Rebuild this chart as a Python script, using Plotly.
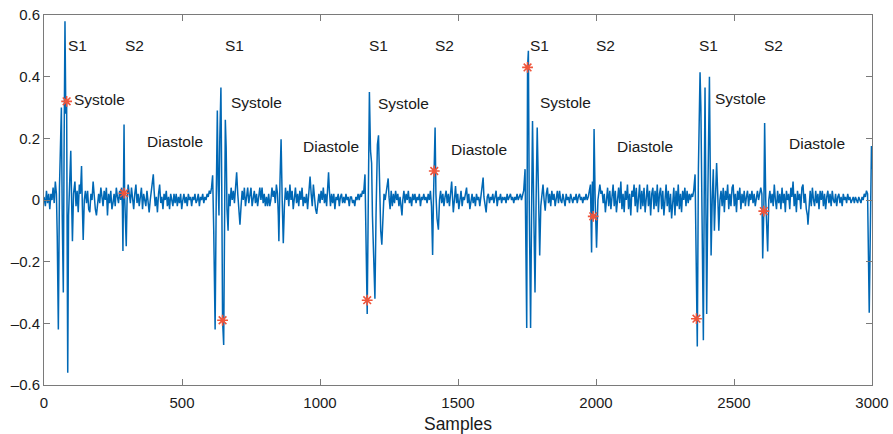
import plotly.graph_objects as go

# ---- PCG signal as (sample, amplitude) pairs ----
beat1_s1_s2 = [(0,0.01),(5,-0.02),(9,0.03),(13,-0.01),(17,0.02),(21,-0.03),(25,0.02),(29,0.0),(33,0.04),(37,-0.01),(41,0.06),(45,0.02),(48,-0.12),(52,-0.42),(56,0.04),(60,0.22),(63,0.3),(66,-0.05),(70,-0.3),(73,0.2),(76,0.58),(79,0.28),(82,0.32),(84,-0.15),(86,-0.56),(89,-0.05),(93,0.1),(97,0.16),(100,0.0),(103,-0.134),(107,0.02),(112,0.06),(116,-0.02),(120,0.03),(124,-0.04),(128,0.05),(132,0.02),(136,0.11),(139,-0.02),(142,-0.13),(146,0.0),(150,0.03),(154,-0.01),(158,0.03),(162,-0.03),(166,-0.04),(170,0.02),(174,0.0),(178,0.06),(182,0.01),(186,-0.03),(190,-0.05),(194,-0.02),(198,0.02),(202,-0.01),(206,0.04),(210,0.01),(214,-0.02),(218,0.03),(222,0.0),(226,0.04),(230,-0.05),(234,0.02),(238,-0.01),(242,0.03),(246,-0.03),(250,-0.01),(254,0.02),(258,-0.02),(262,0.04),(266,0.01),(270,-0.01),(274,0.03),(278,0.0),(281,0.04),(284,-0.02),(286,-0.165),(288,0.04),(290,0.245),(292,0.02),(295,-0.04),(298,-0.15),(301,0.0),(305,0.05)]

diastole1 = [(309,0.02),(313,-0.01),(317,0.04),(321,0.0),(325,-0.03),(329,0.02),(333,0.05),(337,-0.01),(341,0.02),(345,-0.02),(349,0.01),(353,0.04),(357,-0.03),(361,0.02),(365,0.0),(369,-0.02),(373,0.03),(377,-0.01),(381,-0.04),(385,0.0),(389,0.03),(393,0.06),(396,0.083),(399,0.03),(403,-0.02),(407,0.01),(411,-0.04),(415,0.02),(419,0.05),(423,-0.01),(427,0.01),(431,-0.03),(435,0.02),(439,0.0),(443,0.03),(447,-0.02),(451,0.01),(455,-0.03),(459,0.02),(463,0.0),(467,-0.02),(471,0.02),(475,-0.01),(479,0.02),(483,-0.02),(487,0.01),(491,-0.01),(495,0.02),(499,-0.03),(503,0.0),(507,0.02),(511,-0.01),(515,0.01),(519,-0.02),(523,0.02),(527,0.0),(531,0.01),(535,-0.02),(539,0.01),(543,0.0),(547,0.02),(551,-0.01),(555,0.0),(559,0.02),(563,-0.02),(567,0.01),(571,0.0),(575,0.02),(579,-0.01),(583,0.01),(587,0.0),(591,0.02),(595,0.01),(599,0.03),(603,0.02),(607,0.04)]

beat2_s1 = [(611,0.08),(615,-0.1),(620,-0.42),(624,0.0),(628,0.29),(631,0.05),(634,-0.05),(637,0.2),(641,0.365),(644,0.05),(647,-0.39),(651,-0.47),(654,0.05),(657,0.26),(660,0.17),(663,-0.03),(667,-0.1),(670,0.02),(674,-0.02),(678,0.04),(682,0.0),(686,0.03),(690,-0.01),(694,0.05),(698,0.09),(702,0.02),(706,-0.03),(710,-0.08),(714,-0.02),(718,0.03),(722,0.0),(726,0.04),(730,-0.02),(734,0.01),(738,0.04),(742,-0.01),(746,0.02),(750,0.04),(754,-0.02),(758,0.01),(762,0.03),(766,-0.01),(770,0.02),(774,-0.02),(778,0.01),(782,0.04),(786,0.0),(790,0.04),(794,-0.01),(798,0.02),(802,-0.02),(806,0.01),(810,-0.02),(814,0.02),(818,-0.02),(822,0.0),(826,0.04),(830,0.01),(834,0.03),(838,-0.01),(842,0.05),(846,0.02),(849,-0.05),(851,-0.134),(855,0.06),(859,0.197),(863,0.0),(867,-0.14),(871,-0.02),(875,0.04),(879,0.0)]

diastole2 = [(883,0.03),(887,-0.02),(891,0.05),(895,0.0),(899,0.03),(903,-0.03),(907,0.01),(911,0.04),(915,-0.01),(919,0.02),(923,-0.02),(927,0.03),(931,0.0),(935,0.04),(939,-0.02),(943,0.01),(947,-0.01),(951,0.02),(955,-0.03),(959,0.03),(964,0.076),(968,0.02),(972,-0.02),(976,0.05),(980,0.0),(984,-0.03),(988,-0.045),(992,0.0),(996,0.02),(1000,-0.01),(1004,0.03),(1008,0.0),(1012,0.04),(1016,-0.01),(1020,0.02),(1024,-0.02),(1028,0.04),(1031,0.09),(1034,0.03),(1038,-0.02),(1042,0.02),(1046,-0.01),(1050,0.02),(1054,-0.03),(1058,0.01),(1062,0.0),(1066,0.02),(1070,-0.02),(1074,0.01),(1078,0.02),(1082,-0.01),(1086,0.01),(1090,-0.01),(1094,0.02),(1098,0.0),(1102,0.01),(1106,-0.02),(1110,0.01),(1114,0.01),(1118,-0.01),(1122,0.0),(1126,-0.02),(1130,0.01),(1134,0.0),(1138,0.02),(1142,0.0),(1146,0.02),(1150,0.01),(1154,0.03),(1158,0.02)]

beat3_s1 = [(1163,0.083),(1167,-0.1),(1171,-0.37),(1175,0.0),(1179,0.35),(1183,0.16),(1187,0.12),(1190,-0.05),(1195,-0.2),(1199,-0.32),(1203,-0.05),(1208,0.18),(1212,0.21),(1216,0.05),(1220,-0.1),(1224,-0.145),(1228,-0.02),(1232,0.02),(1236,0.0),(1240,0.03),(1244,0.05),(1247,0.07),(1250,0.01),(1254,-0.03),(1258,0.03),(1262,-0.02),(1266,0.02),(1270,-0.01),(1274,0.03),(1278,0.0),(1282,0.02),(1286,-0.02),(1290,0.01),(1294,-0.03),(1297,-0.05),(1300,0.0),(1304,0.03),(1308,-0.01),(1312,0.02),(1316,0.0),(1320,0.03),(1324,-0.01),(1328,0.01),(1332,-0.02),(1336,0.02),(1340,0.0),(1344,0.02),(1348,-0.01),(1352,0.01),(1356,0.0),(1360,0.02),(1364,-0.02),(1368,0.01),(1372,0.0),(1376,0.02),(1380,0.0),(1384,0.01),(1388,-0.01),(1392,0.02),(1396,0.0),(1400,0.03),(1404,-0.02)]

beat3_s2 = [(1408,-0.178),(1411,0.0),(1414,0.094),(1417,0.235),(1420,0.02),(1424,-0.06),(1429,-0.096),(1433,0.0),(1437,0.03)]

diastole3 = [(1441,-0.01),(1445,0.02),(1449,-0.02),(1453,0.01),(1457,0.03),(1461,-0.01),(1465,0.02),(1469,-0.02),(1473,0.02),(1477,0.06),(1480,0.01),(1483,-0.04),(1487,0.0),(1491,0.045),(1495,-0.01),(1499,0.02),(1503,-0.03),(1507,0.01),(1511,0.03),(1515,-0.02),(1519,0.01),(1523,0.0),(1527,0.02),(1531,0.04),(1535,-0.01),(1539,0.02),(1543,-0.03),(1547,0.0),(1551,0.02),(1555,-0.01),(1559,0.01),(1563,-0.02),(1567,0.02),(1571,0.0),(1575,0.01),(1579,-0.02),(1583,0.02),(1587,0.04),(1591,0.073),(1594,0.01),(1598,-0.02),(1602,-0.04),(1606,0.01),(1610,0.02),(1614,-0.01),(1618,0.01),(1622,0.0),(1626,0.02),(1630,-0.01),(1634,0.01),(1638,0.03),(1642,-0.02),(1646,0.01),(1650,0.0),(1654,0.02),(1658,-0.01),(1662,0.01),(1666,0.0),(1670,0.01),(1674,-0.01),(1678,0.02),(1682,0.0),(1686,0.01),(1690,0.02),(1694,0.0),(1698,0.01),(1702,-0.01),(1706,0.01),(1710,0.0),(1714,0.02),(1718,0.0),(1722,0.01),(1726,0.02),(1730,0.0),(1734,0.02),(1738,0.03)]

beat4_s1 = [(1743,0.1),(1746,-0.1),(1749,-0.415),(1752,0.43),(1755,0.484),(1758,0.0),(1763,-0.415),(1767,0.0),(1770,0.256),(1774,0.0),(1779,-0.3),(1783,0.0),(1787,0.235),(1791,0.05),(1796,-0.18),(1800,-0.02),(1804,0.03),(1808,0.05),(1812,0.0),(1816,-0.035),(1820,0.02),(1824,0.04),(1828,-0.01),(1832,0.02),(1836,-0.02),(1840,0.03),(1844,0.0),(1848,0.02),(1852,-0.02),(1856,0.01),(1860,0.03),(1864,-0.01),(1868,0.03),(1872,0.0),(1876,-0.01),(1880,0.02),(1884,0.0),(1888,-0.02),(1892,0.02),(1896,0.0),(1900,0.01),(1904,-0.01),(1908,0.02),(1912,0.0),(1916,-0.01),(1920,0.01),(1924,0.0),(1928,0.02),(1932,-0.01),(1936,0.01),(1940,0.02),(1944,0.0),(1948,0.01),(1952,-0.01),(1956,0.01),(1960,0.0),(1964,0.02),(1968,0.0),(1972,0.01),(1976,0.03),(1980,0.05)]

beat4_s2 = [(1984,-0.17),(1987,0.06),(1990,-0.053),(1993,0.23),(1997,0.0),(2002,-0.155),(2007,0.0),(2011,0.03),(2014,0.05),(2018,0.02),(2022,0.03),(2026,-0.01),(2030,0.02),(2034,-0.04),(2038,0.01),(2042,0.04),(2046,-0.02),(2050,0.03),(2054,-0.03),(2058,0.02),(2062,0.05),(2066,-0.02),(2070,0.03),(2074,-0.04),(2078,0.01),(2082,0.04),(2086,-0.01),(2090,0.06),(2094,-0.03),(2098,0.02),(2102,-0.04),(2106,0.03),(2110,0.0),(2114,0.05),(2118,-0.03),(2122,0.02),(2126,-0.05),(2130,0.03),(2134,0.01),(2138,0.05),(2142,-0.02),(2146,0.04),(2150,-0.04),(2154,0.02),(2158,0.05),(2162,-0.03),(2166,0.03),(2170,-0.02),(2174,0.04),(2178,-0.04),(2182,0.02),(2186,0.05),(2190,-0.02),(2194,0.03),(2198,-0.05),(2202,0.02),(2206,0.04),(2210,-0.03),(2214,0.03),(2218,-0.02),(2222,0.05),(2226,-0.04),(2230,0.02),(2234,0.04),(2238,-0.03),(2242,0.03),(2246,-0.05),(2250,0.02),(2254,0.05),(2258,-0.02),(2262,0.03),(2266,-0.04),(2270,0.02),(2274,-0.06),(2278,0.01),(2282,0.04),(2286,-0.05),(2290,0.03),(2294,-0.02),(2298,0.05),(2302,-0.03),(2306,0.02),(2310,-0.04),(2314,0.03),(2318,0.0),(2322,0.04),(2326,-0.02),(2330,0.03),(2334,-0.01),(2338,0.02),(2342,0.0),(2346,0.02),(2350,0.01),(2354,0.03)]

beat5_s1 = [(2359,0.083),(2362,-0.2),(2364,-0.385),(2367,-0.475),(2371,0.1),(2374,0.3),(2377,0.414),(2380,0.3),(2383,0.0),(2386,-0.2),(2389,-0.455),(2392,0.0),(2395,0.365),(2398,0.0),(2401,-0.37),(2405,0.0),(2408,0.2),(2411,0.40),(2414,0.1),(2417,-0.18),(2421,0.0),(2425,0.1),(2429,-0.1),(2433,0.0),(2437,0.12),(2441,0.02),(2445,-0.1),(2449,0.0),(2453,0.03),(2457,-0.02),(2461,0.04),(2465,-0.04),(2469,0.03),(2473,0.0),(2477,0.05),(2481,-0.03),(2485,0.02),(2489,-0.02),(2493,0.04),(2497,0.05),(2501,-0.02),(2505,0.02),(2509,-0.04),(2513,0.03),(2517,0.0),(2521,0.04),(2525,-0.03),(2529,0.02),(2533,-0.01),(2537,0.03),(2541,-0.02),(2545,0.01),(2549,0.03),(2553,-0.02),(2557,0.02),(2561,0.0),(2565,0.03),(2569,-0.01),(2573,0.02),(2577,-0.02),(2581,0.01),(2585,0.03),(2589,0.0),(2593,0.02),(2597,0.04),(2601,0.02)]

beat5_s2_tail = [(2604,-0.19),(2608,-0.036),(2611,0.25),(2615,0.0),(2619,-0.08),(2622,-0.167),(2626,0.0),(2630,0.03),(2634,-0.01),(2638,0.02),(2642,-0.02),(2646,0.05),(2650,0.0),(2654,-0.03),(2658,0.03),(2662,-0.01),(2666,0.02),(2670,-0.03),(2674,0.04),(2678,-0.01),(2682,0.02),(2686,-0.04),(2690,0.03),(2694,0.0),(2698,0.02),(2702,-0.03),(2706,0.04),(2710,0.01),(2714,0.06),(2718,-0.02),(2722,0.02),(2726,-0.04),(2730,0.03),(2734,0.0),(2738,0.02),(2742,-0.03),(2746,0.04),(2750,0.05),(2754,-0.01),(2758,0.02),(2762,-0.03),(2766,-0.05),(2768,-0.08),(2772,0.0),(2776,0.03),(2780,-0.02),(2784,0.04),(2788,0.0),(2792,-0.02),(2796,0.03),(2800,-0.01),(2804,0.02),(2808,-0.03),(2812,0.03),(2816,0.0),(2820,0.03),(2824,-0.02),(2828,0.02),(2832,-0.03),(2836,0.01),(2840,0.03),(2844,-0.01),(2848,0.02),(2852,-0.02),(2856,0.03),(2860,0.0),(2864,-0.01),(2868,0.02),(2872,-0.02),(2876,0.01),(2880,0.02),(2884,-0.01),(2888,0.01),(2892,-0.02),(2896,0.02),(2900,0.0),(2904,0.01),(2908,-0.01),(2912,0.02),(2916,0.0),(2920,0.01),(2924,-0.01),(2928,0.0),(2932,0.01),(2936,-0.01),(2940,0.01),(2944,0.0),(2948,-0.01),(2952,0.01),(2956,0.0),(2960,-0.01),(2964,0.01),(2968,0.0),(2972,0.02),(2976,0.01),(2980,0.03),(2984,0.02),(2990,-0.366),(2994,0.0),(2998,0.175),(3000,0.1)]

segments = [beat1_s1_s2, diastole1, beat2_s1, diastole2, beat3_s1, beat3_s2,
            diastole3, beat4_s1, beat4_s2, beat5_s1, beat5_s2_tail]

# ---- detected peaks (red asterisks) ----
peak_samples = [82, 290, 647, 1171, 1414, 1752, 1990, 2364, 2608]
peak_values = [0.32, 0.022, -0.39, -0.325, 0.094, 0.43, -0.053, -0.385, -0.036]

# ---- text labels ----
s1_x = [83, 653, 1175, 1758, 2371]
s2_x = [291, 1414, 1996, 2604]
s_label_y = 0.5
systole_x = [106, 674, 1208, 1795, 2429]
systole_y = [0.327, 0.316, 0.314, 0.316, 0.33]
diastole_x = [368, 934, 1471, 2072, 2697]
diastole_y = [0.191, 0.175, 0.164, 0.175, 0.184]

x_ticks = [0, 500, 1000, 1500, 2000, 2500, 3000]
y_ticks = [-0.6, -0.4, -0.2, 0, 0.2, 0.4, 0.6]

samples = [p[0] for seg in segments for p in seg]
amplitude = [p[1] for seg in segments for p in seg]

FONT = "Liberation Sans, Arial, Helvetica, sans-serif"
TXT = "#1a1a1a"

fig = go.Figure()
fig.add_trace(go.Scatter(x=samples, y=amplitude, mode="lines",
                         line=dict(color="#0068b5", width=1.5), showlegend=False))
fig.add_trace(go.Scatter(x=peak_samples, y=peak_values, mode="markers",
                         marker=dict(symbol="asterisk-open", size=9,
                                     line=dict(color="#ff2020", width=1.6)),
                         showlegend=False))

ann = []
for x in s1_x:
    ann.append(dict(x=x, y=s_label_y, text="S1"))
for x in s2_x:
    ann.append(dict(x=x, y=s_label_y, text="S2"))
for x, y in zip(systole_x, systole_y):
    ann.append(dict(x=x, y=y, text="Systole"))
for x, y in zip(diastole_x, diastole_y):
    ann.append(dict(x=x, y=y, text="Diastole"))
for a in ann:
    a.update(xref="x", yref="y", showarrow=False, xanchor="left", yanchor="middle",
             font=dict(family=FONT, size=15.5, color=TXT), borderpad=0)
fig.update_layout(annotations=ann)

axis_common = dict(showgrid=False, zeroline=False, showline=True, linecolor="#7a7a7a",
                   linewidth=1, mirror="ticks", ticks="inside", ticklen=6,
                   tickcolor="#7a7a7a", tickwidth=1, automargin=False,
                   ticklabeloverflow="allow",
                   tickfont=dict(family=FONT, size=15, color=TXT))
fig.update_xaxes(range=[0, 3000], tickvals=x_ticks, ticktext=[str(t) for t in x_ticks],
                 ticklabelstandoff=4,
                 title=dict(text="Samples", font=dict(family=FONT, size=17.5, color=TXT), standoff=9),
                 **axis_common)
fig.update_yaxes(range=[-0.6, 0.6], tickvals=y_ticks,
                 ticktext=["\u20130.6", "\u20130.4", "\u20130.2", "0", "0.2", "0.4", "0.6"],
                 **axis_common)
fig.update_layout(width=893, height=434, margin=dict(l=44, r=21, t=15, b=49),
                  plot_bgcolor="white", paper_bgcolor="white", hovermode=False)
# remove the page's default 8px body margin so the figure fills the window exactly
fig.write_html("out.html", config={"displayModeBar": False},
               post_script="document.body.style.margin='0px';document.body.style.overflow='hidden';")
